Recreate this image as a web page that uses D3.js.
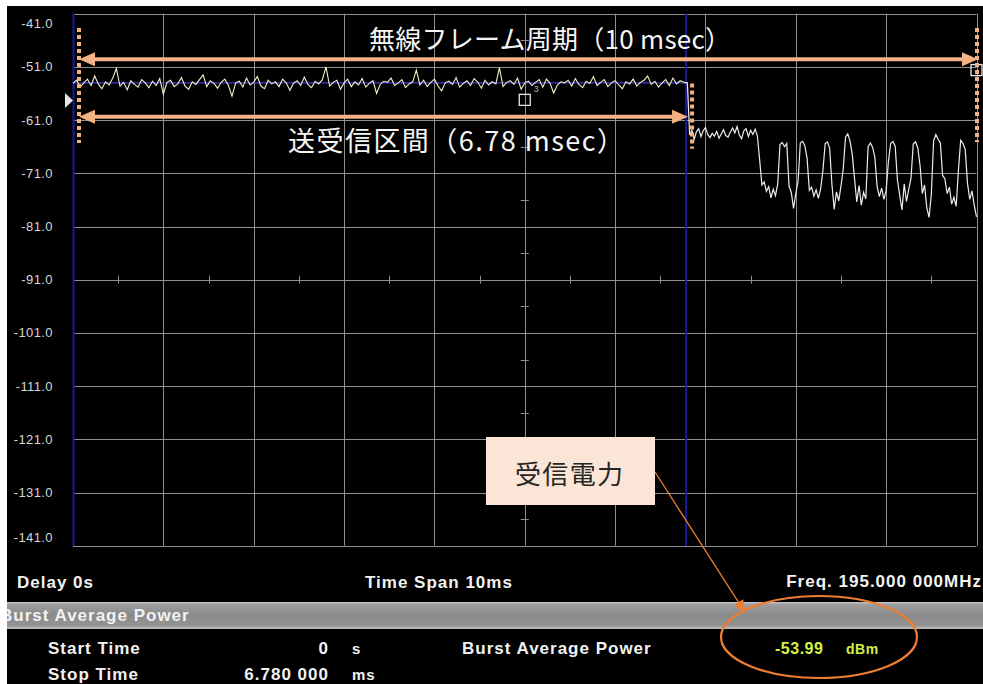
<!DOCTYPE html>
<html>
<head>
<meta charset="utf-8">
<script src="https://cdn.jsdelivr.net/npm/d3@7"></script>
<style>
  html, body { margin: 0; padding: 0; background: #fff; }
  svg { display: block; }
</style>
</head>
<body>
<svg id="chart"></svg>
<script>
const width = 983;
const height = 684;

// grid levels (dBm) and time divisions (ms)
const levels = [-41, -51, -61, -71, -81, -91, -101, -111, -121, -131, -141];
const times = [0, 1, 2, 3, 4, 5, 6, 7, 8, 9, 10];

// trace during the burst: one sample every 0.04 ms from 0 ms
const burstStep = 0.04;
const burstTrace = [
  -54.1, -53.5, -54.8, -54.0, -53.3, -54.5, -52.7, -54.2, -55.1, -53.8,
  -54.4, -53.1, -51.3, -54.6, -53.9, -55.3, -53.6, -54.3, -54.8, -53.4,
  -54.0, -54.9, -53.7, -54.5, -53.2, -56.1, -53.9, -53.5, -54.7, -54.2,
  -53.0, -54.6, -55.2, -53.8, -54.3, -53.4, -52.5, -54.7, -53.6, -54.1,
  -55.0, -53.9, -53.3, -54.5, -56.5, -54.0, -53.7, -54.8, -53.1, -54.4,
  -53.9, -52.8, -54.6, -55.1, -53.5, -54.2, -53.8, -54.7, -53.3, -54.0,
  -55.4, -54.1, -53.6, -54.5, -52.9, -54.3, -54.9, -53.7, -54.2, -53.4,
  -51.0, -54.6, -53.9, -53.5, -55.2, -54.0, -53.3, -54.7, -53.8, -54.4,
  -53.2, -54.8, -54.1, -53.6, -56.0, -54.3, -53.7, -53.9, -53.1, -54.5,
  -54.0, -53.4, -54.9, -54.2, -53.8, -51.6, -54.4, -53.5, -54.7, -53.9,
  -53.3, -54.6, -55.5, -54.0, -53.7, -54.3, -53.0, -54.8, -54.1, -53.6,
  -54.5, -53.2, -53.9, -55.0, -53.5, -54.4, -53.8, -54.2, -51.2, -54.7,
  -53.9, -53.6, -54.3, -53.1, -55.2, -54.0, -53.7, -54.5, -53.9, -53.4,
  -54.8, -53.3, -54.1, -55.9, -54.4, -53.8, -54.0, -53.5, -54.6, -53.2,
  -54.3, -54.9, -53.7, -54.1, -52.8, -54.5, -53.9, -53.4, -54.7, -54.0,
  -53.6, -54.4, -55.1, -53.8, -54.2, -53.3, -54.6, -53.9, -53.5, -52.7,
  -54.3, -53.7, -54.8, -54.0, -53.4, -54.5, -53.1, -54.2, -53.6, -53.9
];

// trace after the burst: one sample every 0.025 ms from 6.8 ms
const idleStart = 6.8;
const idleStep = 0.025;
const idleTrace = [
  -54.0, -63.8, -62.9, -64.6, -63.2, -62.6, -64.1, -63.0, -62.4, -63.7,
  -64.3, -63.5, -64.0, -63.1, -64.4, -63.6, -62.8, -63.9, -64.2, -63.3,
  -62.5, -63.4, -62.2, -63.8, -64.5, -63.0, -62.6, -64.1, -62.9, -63.7,
  -62.7, -64.0, -68.5, -73.2, -72.6, -74.4, -73.5, -75.6, -74.0, -75.2,
  -73.0, -65.6, -65.2, -66.0, -65.4, -73.4, -74.6, -77.6, -74.8, -72.5,
  -65.3, -65.0, -65.8, -68.2, -74.2, -73.6, -75.3, -74.1, -75.7, -73.9,
  -70.5, -65.4, -65.1, -66.3, -73.1, -77.8, -74.5, -76.2, -73.4, -70.2,
  -64.2, -63.6, -64.9, -67.5, -72.0, -76.4, -73.3, -77.0, -74.6, -75.8,
  -66.0, -65.3, -66.1, -68.0, -73.5, -75.4, -73.8, -75.9, -74.2, -68.8,
  -65.4, -65.0, -65.9, -72.3, -75.1, -77.9, -73.0, -76.3, -74.0, -71.9,
  -65.5, -65.1, -66.2, -69.5, -74.8, -73.2, -77.5, -79.3, -75.0, -64.9,
  -63.7, -64.6, -65.3, -71.4, -72.0, -74.8, -73.6, -76.8, -75.5, -77.2,
  -70.4, -64.8, -65.4, -66.5, -72.8, -75.9, -74.3, -77.0, -79.2
];

const burstAvg = -53.99;   // dBm
const burstStop = 6.78;    // ms
const frameLen = 10;       // ms
const refLevel = -57.3;    // triangle marker level
const markerPts = [
  { t: 5, v: -57.2, label: "3" },
  { t: 10, v: -51.6, label: "" }
];

const infoRows = [
  { name: "Start Time", value: "0", unit: "s" },
  { name: "Stop Time", value: "6.780 000", unit: "ms" }
];

const orange = "#F4B183";
const orangeDark = "#ED7D31";
const cjk = "'Noto Sans CJK JP', 'Noto Sans CJK SC', sans-serif";
const latin = "'Liberation Sans', Arial, sans-serif";

const svg = d3.select("#chart")
  .attr("width", width)
  .attr("height", height)
  .attr("viewBox", `0 0 ${width} ${height}`);

svg.append("defs").append("clipPath").attr("id", "frame")
  .append("rect").attr("x", 7).attr("y", 6).attr("width", width - 7).attr("height", height - 6);

const gradBar = svg.select("defs").append("linearGradient")
  .attr("id", "bar").attr("x1", 0).attr("x2", 0).attr("y1", 0).attr("y2", 1);
[[0, "#c8c8c8"], [0.1, "#9c9c9c"], [0.5, "#8a8a8a"], [0.88, "#949494"], [1, "#c2c2c2"]]
  .forEach(([o, c]) => gradBar.append("stop").attr("offset", o).attr("stop-color", c));

const root = svg.append("g").attr("clip-path", "url(#frame)");
root.append("rect").attr("x", 7).attr("y", 6).attr("width", width - 7).attr("height", height - 6).attr("fill", "#000");

const x = d3.scaleLinear().domain([0, frameLen]).range([73, 976.5]);
const y = d3.scaleLinear().domain([-141, -41]).range([545.7, 13.7]);
const px = (v) => Math.round(v) + 0.5;

// grid
const grid = root.append("g").attr("stroke", "#8f8f8f").attr("stroke-width", 1);
grid.selectAll("line.h").data(levels).join("line").attr("class", "h")
  .attr("x1", x(0)).attr("x2", x(frameLen))
  .attr("y1", (d) => px(y(d))).attr("y2", (d) => px(y(d)));
grid.selectAll("line.v").data(times).join("line").attr("class", "v")
  .attr("x1", (d) => px(x(d))).attr("x2", (d) => px(x(d)))
  .attr("y1", y(-41)).attr("y2", y(-141));

// minor ticks on the centre cross
const midT = d3.range(0.5, frameLen, 1);
grid.selectAll("line.th").data(midT).join("line").attr("class", "th")
  .attr("x1", (d) => px(x(d))).attr("x2", (d) => px(x(d)))
  .attr("y1", y(-91) - 4).attr("y2", y(-91) + 4);
const midL = d3.range(-46, -141, -10);
grid.selectAll("line.tv").data(midL).join("line").attr("class", "tv")
  .attr("x1", x(5) - 4).attr("x2", x(5) + 4)
  .attr("y1", (d) => px(y(d))).attr("y2", (d) => px(y(d)));

// y labels
root.append("g")
  .selectAll("text").data(levels).join("text")
  .attr("x", 53)
  .attr("y", (d) => Math.min(Math.max(y(d), 23), 537))
  .attr("dominant-baseline", "central")
  .attr("text-anchor", "end")
  .attr("font-family", latin)
  .attr("font-size", 13)
  .attr("letter-spacing", 0.4)
  .attr("fill", "#d6d6d6")
  .text((d) => d.toFixed(1));

// gate lines (blue)
root.append("g").attr("stroke", "#1a1a96").attr("stroke-width", 2)
  .selectAll("line").data([0, burstStop]).join("line")
  .attr("x1", (d) => x(d) + 0.5).attr("x2", (d) => x(d) + 0.5)
  .attr("y1", y(-41)).attr("y2", y(-141));

// burst average level
root.append("line")
  .attr("x1", x(0)).attr("x2", x(burstStop))
  .attr("y1", y(burstAvg)).attr("y2", y(burstAvg))
  .attr("stroke", "#3a3ad8").attr("stroke-width", 1.2);

// trace
const burstPts = burstTrace.map((v, i) => [i * burstStep, v]);
const idlePts = [burstPts[burstPts.length - 1]].concat(
  idleTrace.map((v, i) => [idleStart + i * idleStep, v]));
const line = d3.line().x((d) => x(d[0])).y((d) => y(d[1]));
root.append("path").attr("d", line(burstPts))
  .attr("fill", "none").attr("stroke", "#f4f0c4").attr("stroke-width", 1.1);
root.append("path").attr("d", line(idlePts))
  .attr("fill", "none").attr("stroke", "#ededed").attr("stroke-width", 1.2);

// markers
const ry = y(refLevel);
root.append("path")
  .attr("d", `M65,${ry - 7.5} L73,${ry} L65,${ry + 7.5} Z`)
  .attr("fill", "#e4e4e4");
root.append("g").selectAll("rect").data(markerPts).join("rect")
  .attr("x", (d) => x(d.t) - 5.5).attr("y", (d) => y(d.v) - 5.5)
  .attr("width", 11).attr("height", 11)
  .attr("fill", "none").attr("stroke", "#e8e8e8").attr("stroke-width", 1.3);
root.append("g").selectAll("text").data(markerPts).join("text")
  .attr("x", (d) => x(d.t) + 9).attr("y", (d) => y(d.v) - 8)
  .attr("font-family", latin).attr("font-size", 9).attr("fill", "#bbb")
  .text((d) => d.label);

// ---- annotations ----
const ann = root.append("g");

function dotted(t, v0, v1, dx) {
  ann.append("line")
    .attr("x1", x(t) + dx).attr("x2", x(t) + dx)
    .attr("y1", y(v0)).attr("y2", y(v1))
    .attr("stroke", orange).attr("stroke-width", 4)
    .attr("stroke-dasharray", "4,3");
}
dotted(0, -43.7, -65.3, 6);
dotted(burstStop, -54.1, -66.4, 6.5);
dotted(frameLen, -43.7, -65.1, 0.5);

function arrow(x1, x2, yy) {
  const h = 16, w = 7;
  ann.append("line").attr("x1", x1 + h - 2).attr("x2", x2 - h + 2)
    .attr("y1", yy).attr("y2", yy)
    .attr("stroke", orange).attr("stroke-width", 4);
  ann.append("path").attr("d", `M${x1},${yy} L${x1 + h},${yy - w} L${x1 + h},${yy + w} Z`).attr("fill", orange);
  ann.append("path").attr("d", `M${x2},${yy} L${x2 - h},${yy - w} L${x2 - h},${yy + w} Z`).attr("fill", orange);
}
arrow(x(0) + 6, x(frameLen) + 1.5, y(-49.57));
arrow(x(0) + 6, x(burstStop) + 2.5, y(-60.36));

ann.append("text")
  .attr("x", 369).attr("y", 37)
  .attr("dominant-baseline", "central")
  .attr("font-family", cjk).attr("font-size", 26)
  .attr("textLength", 362).attr("lengthAdjust", "spacing")
  .attr("fill", "#f6f6f6")
  .text("無線フレーム周期（10 msec）");
ann.append("text")
  .attr("x", 288).attr("y", 139)
  .attr("dominant-baseline", "central")
  .attr("font-family", cjk).attr("font-size", 27)
  .attr("textLength", 336).attr("lengthAdjust", "spacing")
  .attr("fill", "#f6f6f6")
  .text("送受信区間（6.78 msec）");

// ---- bottom panel ----
root.append("rect").attr("x", 7).attr("y", 602).attr("width", width - 7).attr("height", 27)
  .attr("fill", "url(#bar)");

const info = root.append("g")
  .attr("font-family", latin).attr("font-weight", "bold")
  .attr("font-size", 17).attr("letter-spacing", 1).attr("fill", "#f2f2f2");
info.append("text").attr("x", 17).attr("y", 588).text("Delay 0s");
info.append("text").attr("x", 365).attr("y", 588).text("Time Span 10ms");
info.append("text").attr("x", 982).attr("y", 587).attr("text-anchor", "end").text("Freq. 195.000 000MHz");
info.append("text").attr("x", 0).attr("y", 621).text("Burst Average Power");

info.selectAll("text.name").data(infoRows).join("text").attr("class", "name")
  .attr("x", 48).attr("y", (d, i) => 654 + i * 26).text((d) => d.name);
info.selectAll("text.val").data(infoRows).join("text").attr("class", "val")
  .attr("x", 329).attr("y", (d, i) => 654 + i * 26).attr("text-anchor", "end").text((d) => d.value);
info.selectAll("text.unit").data(infoRows).join("text").attr("class", "unit")
  .attr("x", 352).attr("y", (d, i) => 654 + i * 26).attr("font-size", 15).text((d) => d.unit);
info.append("text").attr("x", 462).attr("y", 654).text("Burst Average Power");
info.append("text").attr("x", 775).attr("y", 654).attr("fill", "#d6f046").attr("font-size", 16)
  .attr("letter-spacing", 0.5).text(burstAvg.toFixed(2));
info.append("text").attr("x", 846).attr("y", 654).attr("fill", "#d6f046").attr("font-size", 14)
  .attr("letter-spacing", 0.5).text("dBm");

// ---- callout ----
const call = root.append("g");
call.append("rect").attr("x", 486).attr("y", 437).attr("width", 169).attr("height", 68).attr("fill", "#FBE5D6");
call.append("text").attr("x", 569).attr("y", 472)
  .attr("dominant-baseline", "central").attr("text-anchor", "middle")
  .attr("font-family", cjk).attr("font-size", 26)
  .attr("textLength", 108).attr("lengthAdjust", "spacing")
  .attr("fill", "#262626").text("受信電力");

const lx1 = 655, ly1 = 472, lx2 = 746, ly2 = 614;
const ang = Math.atan2(ly2 - ly1, lx2 - lx1);
const hl = 14, hw = 5.5;
call.append("line").attr("x1", lx1).attr("y1", ly1)
  .attr("x2", lx2 - hl * Math.cos(ang)).attr("y2", ly2 - hl * Math.sin(ang))
  .attr("stroke", orangeDark).attr("stroke-width", 1.3);
const bx = lx2 - hl * Math.cos(ang), by = ly2 - hl * Math.sin(ang);
call.append("path")
  .attr("d", `M${lx2},${ly2} L${bx + hw * Math.sin(ang)},${by - hw * Math.cos(ang)} L${bx - hw * Math.sin(ang)},${by + hw * Math.cos(ang)} Z`)
  .attr("fill", orangeDark);
call.append("ellipse").attr("cx", 819).attr("cy", 637).attr("rx", 98).attr("ry", 41)
  .attr("fill", "none").attr("stroke", orangeDark).attr("stroke-width", 2.2);
</script>
</body>
</html>
